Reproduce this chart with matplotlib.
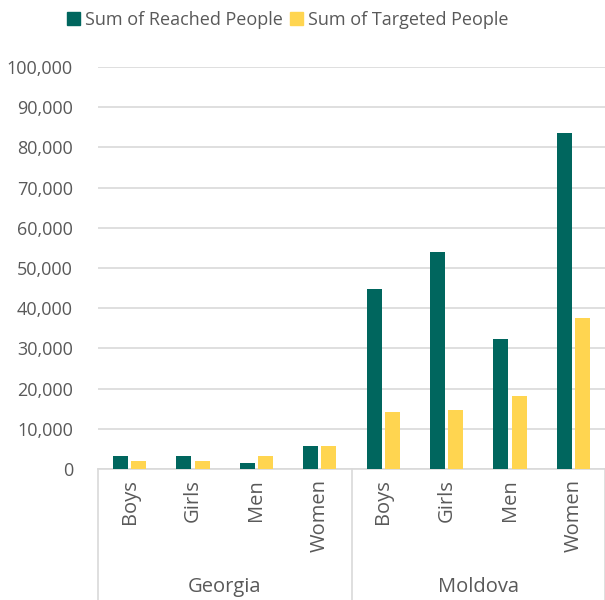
import matplotlib.pyplot as plt
import numpy as np
from matplotlib.patches import Patch

plt.rcParams['font.family'] = ['Open Sans', 'DejaVu Sans']

countries = ["Georgia", "Moldova"]
groups = ["Boys", "Girls", "Men", "Women"]
reached = [3200, 3200, 1500, 5800, 44800, 54100, 32300, 83600]
targeted = [2000, 2000, 3200, 5800, 14300, 14600, 18100, 37500]

teal = "#00665E"
yellow = "#FFD550"
txt = "#595959"
grid = "#D9D9D9"

fig = plt.figure(figsize=(6.05, 6.0), dpi=100)
ax = fig.add_axes([98 / 605, 131 / 600, 507 / 605, 402 / 600])

x = np.arange(len(reached)) + 0.5
w = 0.235
ax.bar(x - 0.144, reached, w, color=teal, zorder=3)
ax.bar(x + 0.144, targeted, w, color=yellow, zorder=3)

ax.set_xlim(0, 8)
ax.set_ylim(0, 100000)
ax.set_yticks(np.arange(0, 100001, 10000))
ax.set_yticklabels([f"{v:,}" for v in range(0, 100001, 10000)])
ax.yaxis.grid(True, color=grid, linewidth=1.2, zorder=0)
ax.tick_params(axis='y', length=0, labelsize=13, labelcolor=txt, pad=18)
ax.set_xticks([])
for s in ['top', 'right', 'left']:
    ax.spines[s].set_visible(False)
ax.spines['bottom'].set_color(grid)
ax.spines['bottom'].set_linewidth(1.2)

# category labels under each bar pair
trans = ax.get_xaxis_transform()
for i, xi in enumerate(x):
    ax.text(xi, -0.026, groups[i % 4], rotation=90, ha='center', va='top',
            fontsize=14.5, color=txt, transform=trans)

# country labels and group separators
for j, c in enumerate(countries):
    ax.text(j * 4 + 2, -0.293, c, ha='center', va='center', fontsize=14.5,
            color=txt, transform=trans)
for xs in [0, 4, 8]:
    ax.plot([xs, xs], [0, -0.33], color=grid, linewidth=1.2,
            transform=trans, clip_on=False)

handles = [Patch(color=teal, label="Sum of Reached People"),
           Patch(color=yellow, label="Sum of Targeted People")]
fig.legend(handles=handles, loc='center', bbox_to_anchor=(288 / 605, 580 / 600),
           ncol=2, frameon=False, fontsize=13, labelcolor=txt,
           handlelength=0.7, handleheight=0.7, handletextpad=0.3,
           columnspacing=0.4)

fig.savefig("out.png", dpi=100)
